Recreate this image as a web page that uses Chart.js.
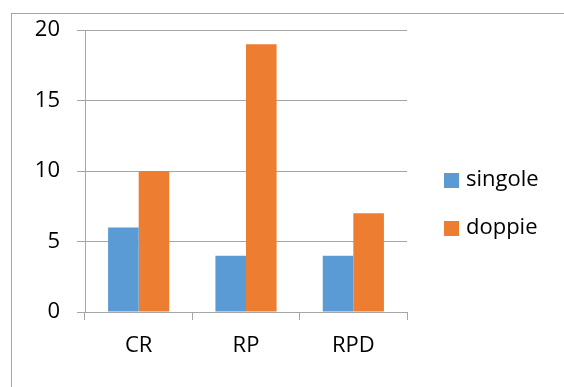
<!DOCTYPE html>
<html>
<head>
<meta charset="utf-8">
<script src="https://cdn.jsdelivr.net/npm/chart.js@4/dist/chart.umd.min.js"></script>
<style>
  html, body { margin: 0; padding: 0; background: #ffffff; }
  #wrap { width: 564px; height: 387px; position: relative; }
</style>
</head>
<body>
<div id="wrap"><canvas id="c" width="564" height="387"></canvas></div>
<script>
// Categories and series
const categories = ['CR', 'RP', 'RPD'];
const singole = [6, 4, 4];
const doppie = [10, 19, 7];
const seriesNames = ['singole', 'doppie'];
const yTicks = [0, 5, 10, 15, 20];

const FONT = '"Open Sans", Lato, sans-serif';
const GRID = '#a6a6a6';
const COLORS = ['#5b9bd5', '#ed7d31'];

// Outer frame and legend on the right
const framePlugin = {
  id: 'frame',
  beforeDraw(chart) {
    const ctx = chart.ctx;
    ctx.save();
    ctx.strokeStyle = '#a6a6a6';
    ctx.lineWidth = 1;
    ctx.strokeRect(11.5, 13.5, 700, 500);
    ctx.restore();
  },
  afterDraw(chart) {
    const ctx = chart.ctx;
    ctx.save();
    ctx.font = '22px ' + FONT;
    ctx.textBaseline = 'middle';
    chart.data.datasets.forEach((ds, i) => {
      const y = 180 + i * 48;
      ctx.fillStyle = ds.backgroundColor;
      ctx.fillRect(444, y - 7, 15, 15);
      ctx.fillStyle = '#000000';
      ctx.fillText(ds.label, 466, y);
    });
    ctx.restore();
  }
};

new Chart(document.getElementById('c'), {
  type: 'bar',
  data: {
    labels: categories,
    datasets: [
      { label: seriesNames[0], data: singole, backgroundColor: COLORS[0] },
      { label: seriesNames[1], data: doppie, backgroundColor: COLORS[1] }
    ]
  },
  options: {
    responsive: false,
    animation: false,
    layout: { padding: { top: 30, right: 157, left: 0, bottom: 0 } },
    plugins: { legend: { display: false }, tooltip: { enabled: false } },
    datasets: { bar: { barPercentage: 1, categoryPercentage: 0.57 } },
    scales: {
      x: {
        grid: { display: true, drawOnChartArea: false, tickLength: 8, color: GRID, offset: true },
        border: { display: true, color: GRID },
        ticks: { color: '#000000', font: { family: FONT, size: 22 }, padding: 13 },
        afterFit(scale) { scale.height = 75; }
      },
      y: {
        min: 0, max: 20,
        afterBuildTicks(scale) { scale.ticks = yTicks.map(v => ({ value: v })); },
        grid: { color: GRID, tickLength: 8 },
        border: { display: true, color: GRID },
        ticks: { color: '#000000', font: { family: FONT, size: 22 }, padding: 17 },
        afterFit(scale) { scale.width = 85; }
      }
    }
  },
  plugins: [framePlugin]
});
</script>
</body>
</html>
